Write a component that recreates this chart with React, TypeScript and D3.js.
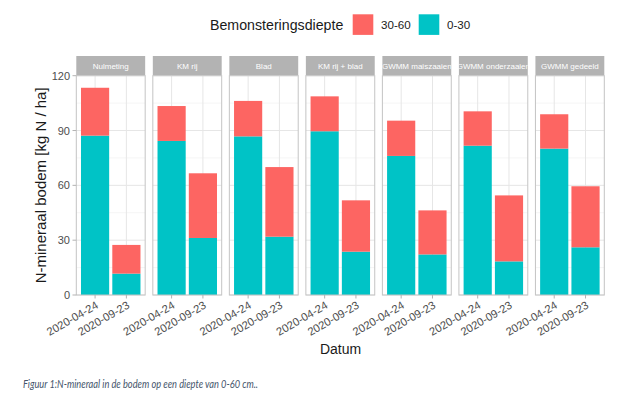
import React from "react";
import * as d3 from "d3";

const treatments = [
  "Nulmeting",
  "KM rij",
  "Blad",
  "KM rij + blad",
  "GWMM maiszaaien",
  "GWMM onderzaaien",
  "GWMM gedeeld",
];
const dates = ["2020-04-24", "2020-09-23"];
const depths = ["30-60", "0-30"];
// 0-30 cm values [april, september] per treatment
const shallow = [
  [87.2, 11.7],
  [84.3, 31.2],
  [86.8, 31.9],
  [89.6, 23.7],
  [76.1, 22.2],
  [81.7, 18.4],
  [80.1, 26.1],
];
// 30-60 cm values
const deep = [
  [26.2, 15.7],
  [19.1, 35.4],
  [19.4, 38.1],
  [19.1, 28.1],
  [19.3, 24.1],
  [18.8, 36.1],
  [18.8, 33.4],
];
const yTicks = [0, 30, 60, 90, 120];
const yMinor = [15, 45, 75, 105];
const colors: Record<string, string> = { "30-60": "#FD6562", "0-30": "#00C3C6" };

const W = 632;
const H = 407;
const panelTop = 75.7;
const panelBottom = 295;
const stripTop = 56;

export default function App() {
  const px = d3.scaleBand<string>().domain(treatments).range([76.3, 604.3]).paddingInner(0.1).paddingOuter(0);
  const bw = px.bandwidth();
  const xi = d3.scaleBand<string>().domain(dates).range([0, bw]).paddingInner(0.1).paddingOuter(0.15);
  const y = d3.scaleLinear().domain([0, 120]).range([panelBottom, panelTop]);
  const font = "Liberation Sans, Arial, sans-serif";

  return (
    <svg width={W} height={H} style={{ position: "absolute", left: 0, top: 0, background: "#fff" }} fontFamily={font}>
      <defs>
        {treatments.map((t, i) => (
          <clipPath id={`strip${i}`} key={t}>
            <rect x={px(t)!} y={stripTop} width={bw} height={panelTop - stripTop} />
          </clipPath>
        ))}
      </defs>
      {/* Legend */}
      <text x={210} y={29.5} fontSize={14.2} fill="#1a1a1a">Bemonsteringsdiepte</text>
      {depths.map((d, i) => {
        const lx = 352.7 + i * 66;
        return (
          <g key={d}>
            <rect x={lx} y={14.3} width={20.6} height={20.6} fill={colors[d]} />
            <text x={lx + 28.3} y={28.8} fontSize={11.6} fill="#1a1a1a">{d}</text>
          </g>
        );
      })}

      {treatments.map((t, ti) => {
        const x0 = px(t)!;
        return (
          <g key={t}>
            {/* strip */}
            <rect x={x0} y={stripTop} width={bw} height={panelTop - stripTop} fill="#b3b3b3" />
            <text
              x={x0 + bw / 2}
              y={(stripTop + panelTop) / 2 + 2.8}
              fontSize={8}
              fill="#ffffff"
              textAnchor="middle"
              clipPath={`url(#strip${ti})`}
            >
              {t}
            </text>
            {/* grid */}
            {yMinor.map((v) => (
              <line key={"m" + v} x1={x0} x2={x0 + bw} y1={y(v)} y2={y(v)} stroke="#f3f3f3" strokeWidth={0.8} />
            ))}
            {yTicks.map((v) => (
              <line key={"M" + v} x1={x0} x2={x0 + bw} y1={y(v)} y2={y(v)} stroke="#e6e6e6" strokeWidth={1} />
            ))}
            {dates.map((d) => {
              const cx = x0 + xi(d)! + xi.bandwidth() / 2;
              return <line key={"v" + d} x1={cx} x2={cx} y1={panelTop} y2={panelBottom} stroke="#e6e6e6" strokeWidth={1} />;
            })}
            {/* bars */}
            {dates.map((d, di) => {
              const bx = x0 + xi(d)!;
              const s = shallow[ti][di];
              const dp = deep[ti][di];
              return (
                <g key={"b" + d}>
                  <rect x={bx} width={xi.bandwidth()} y={y(s)} height={y(0) - y(s)} fill={colors["0-30"]} />
                  <rect x={bx} width={xi.bandwidth()} y={y(s + dp)} height={y(s) - y(s + dp)} fill={colors["30-60"]} />
                </g>
              );
            })}
            {/* border */}
            <rect x={x0} y={panelTop} width={bw} height={panelBottom - panelTop} fill="none" stroke="#c4c4c4" strokeWidth={1} />
            {/* x ticks + labels */}
            {dates.map((d) => {
              const cx = x0 + xi(d)! + xi.bandwidth() / 2;
              return (
                <g key={"t" + d}>
                  <line x1={cx} x2={cx} y1={panelBottom} y2={panelBottom + 3.5} stroke="#b3b3b3" />
                  <text
                    transform={`translate(${cx + 4},${panelBottom + 12.5}) rotate(-30)`}
                    textAnchor="end"
                    fontSize={11.2}
                    fill="#4d4d4d"
                  >
                    {d}
                  </text>
                </g>
              );
            })}
          </g>
        );
      })}

      {/* y axis */}
      {yTicks.map((v) => (
        <g key={"y" + v}>
          <line x1={72.5} x2={76.3} y1={y(v)} y2={y(v)} stroke="#b3b3b3" />
          <text x={70} y={y(v) + 4} fontSize={11} fill="#4d4d4d" textAnchor="end">{v}</text>
        </g>
      ))}
      <text
        transform={`translate(46,${(panelTop + panelBottom) / 2}) rotate(-90)`}
        textAnchor="middle"
        fontSize={15}
        fill="#1a1a1a"
      >
        N-mineraal bodem [kg N / ha]
      </text>
      <text x={340.5} y={354} textAnchor="middle" fontSize={14} fill="#1a1a1a">Datum</text>

      {/* caption */}
      <text
        x={23}
        y={388}
        fontSize={11}
        fontStyle="italic"
        fill="#44546A"
        fontFamily="Lato, 'Open Sans', sans-serif"
        textLength={235}
        lengthAdjust="spacingAndGlyphs"
      >
        Figuur 1:N-mineraal in de bodem op een diepte van 0-60 cm..
      </text>
    </svg>
  );
}
